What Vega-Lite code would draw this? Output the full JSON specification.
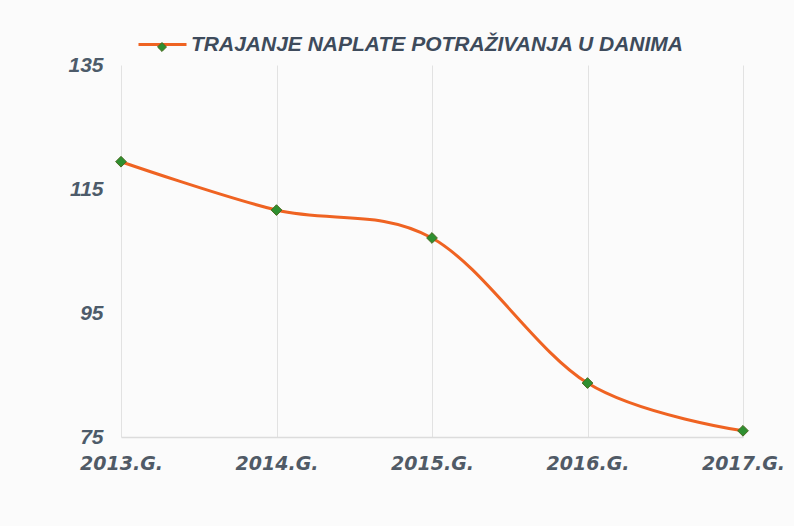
{
  "$schema": "https://vega.github.io/schema/vega-lite/v6.json",
  "autosize": "none",
  "width": 622,
  "height": 372,
  "padding": {"left": 121, "top": 65, "right": 51, "bottom": 89},
  "background": "#fbfbfb",
  "config": {"view": {"stroke": null}},
  "data": {
    "values": [
      {"year": "2013.G.", "days": 119.4, "series": "TRAJANJE NAPLATE POTRAŽIVANJA U DANIMA", "marker": "m"},
      {"year": "2014.G.", "days": 111.6, "series": "TRAJANJE NAPLATE POTRAŽIVANJA U DANIMA", "marker": "m"},
      {"year": "2015.G.", "days": 107.1, "series": "TRAJANJE NAPLATE POTRAŽIVANJA U DANIMA", "marker": "m"},
      {"year": "2016.G.", "days": 83.7, "series": "TRAJANJE NAPLATE POTRAŽIVANJA U DANIMA", "marker": "m"},
      {"year": "2017.G.", "days": 76.0, "series": "TRAJANJE NAPLATE POTRAŽIVANJA U DANIMA", "marker": "m"}
    ]
  },
  "encoding": {
    "x": {
      "field": "year", "type": "ordinal", "sort": null,
      "scale": {"type": "point", "padding": 0},
      "axis": {
        "title": null, "labelAngle": 0, "orient": "bottom",
        "domain": true, "domainColor": "#dcdcdc", "domainWidth": 1.5,
        "ticks": false, "grid": true, "gridColor": "#e2e2e2", "gridWidth": 1,
        "labelFont": "DejaVu Sans", "labelFontSize": 19, "labelFontWeight": "bold", "labelFontStyle": "italic",
        "labelColor": "#505a66", "labelPadding": 17, "labelDx": -12,
        "labelFlush": false
      }
    },
    "y": {
      "field": "days", "type": "quantitative",
      "scale": {"domain": [75, 135], "nice": false, "zero": false},
      "axis": {
        "title": null, "values": [75, 95, 115, 135],
        "domain": false, "ticks": false, "grid": false,
        "labelFont": "Liberation Sans", "labelFontSize": 21, "labelFontWeight": "bold", "labelFontStyle": "italic",
        "labelColor": "#4d5b6a", "labelPadding": 18
      }
    }
  },
  "layer": [
    {
      "mark": {"type": "line", "interpolate": "cardinal", "strokeWidth": 3, "clip": false},
      "encoding": {
        "color": {
          "field": "series", "type": "nominal",
          "scale": {"range": ["#ef6322"]},
          "legend": {
            "title": null, "orient": "none", "legendX": 16, "legendY": -46,
            "symbolType": "stroke", "symbolSize": 2304, "symbolStrokeWidth": 3,
            "labelFont": "Liberation Sans", "labelFontSize": 21, "labelFontWeight": "bold", "labelFontStyle": "italic",
            "labelColor": "#3e4b5c", "labelOffset": 3, "labelLimit": 700
          }
        }
      }
    },
    {
      "mark": {"type": "point", "shape": "diamond", "filled": true, "size": 115, "stroke": "#4a6a20", "strokeWidth": 1, "opacity": 1},
      "encoding": {
        "fill": {
          "field": "marker", "type": "nominal",
          "scale": {"range": ["#2e8f30"]},
          "legend": {
            "title": null, "orient": "none", "legendX": 36, "legendY": -23,
            "symbolType": "diamond", "symbolSize": 80, "symbolStrokeColor": "#4a6a20", "symbolStrokeWidth": 1,
            "labelOpacity": 0, "labelFontSize": 1
          }
        }
      }
    }
  ]
}
